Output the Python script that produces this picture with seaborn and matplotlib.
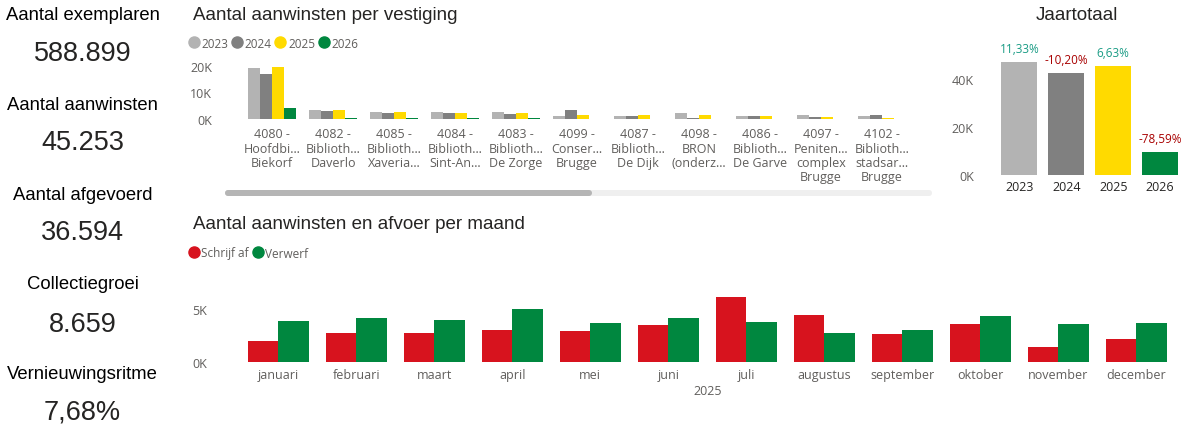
import matplotlib
matplotlib.use("Agg")
import matplotlib.pyplot as plt
from matplotlib.lines import Line2D
from matplotlib.patches import FancyBboxPatch
import seaborn as sns
import pandas as pd

# ---------------- data ----------------
kpi_labels = ["Aantal exemplaren", "Aantal aanwinsten", "Aantal afgevoerd",
              "Collectiegroei", "Vernieuwingsritme"]
kpi_values = ["588.899", "45.253", "36.594", "8.659", "7,68%"]

vestigingen = [
    "4080 -\nHoofdbi…\nBiekorf", "4082 -\nBiblioth…\nDaverlo", "4085 -\nBiblioth…\nXaveria…",
    "4084 -\nBiblioth…\nSint-An…", "4083 -\nBiblioth…\nDe Zorge", "4099 -\nConser…\nBrugge",
    "4087 -\nBiblioth…\nDe Dijk", "4098 -\nBRON\n(onderz…", "4086 -\nBiblioth…\nDe Garve",
    "4097 -\nPeniten…\ncomplex\nBrugge", "4102 -\nBiblioth…\nstadsar…\nBrugge",
]
years = ["2023", "2024", "2025", "2026"]
v2023 = [19100, 3400, 2600, 2600, 2500, 1100, 1250, 2400, 1100, 1500, 1250]
v2024 = [16900, 3100, 2100, 2100, 1900, 3400, 1000, 250, 1000, 900, 1500]
v2025 = [19600, 3300, 2500, 2400, 2250, 1500, 1400, 1500, 1100, 750, 400]
v2026 = [4000, 500, 400, 400, 400, 100, 100, 100, 100, 100, 100]

jaar_totaal = [47259, 42439, 45253, 9689]
jaar_pct = ["11,33%", "-10,20%", "6,63%", "-78,59%"]

maanden = ["januari", "februari", "maart", "april", "mei", "juni", "juli",
           "augustus", "september", "oktober", "november", "december"]
schrijf_af = [1970, 2720, 2720, 3030, 2970, 3530, 6100, 4440, 2690, 3590, 1410, 2190]
verwerf = [3900, 4130, 3970, 5030, 3660, 4130, 3810, 2750, 3000, 4340, 3590, 3690]

# ---------------- style ----------------
sns.set_theme(style="white")
plt.rcParams["font.family"] = ["Liberation Sans", "DejaVu Sans"]
TICK_FONT = ["Open Sans", "DejaVu Sans"]
TICK_COL = "#605E5C"
TITLE_COL = "#252423"
year_colors = {"2023": "#B3B3B3", "2024": "#808080", "2025": "#FFDA00", "2026": "#00873F"}
RED = "#D7131E"
GREEN = "#00873F"

W, H = 1185, 427
fig = plt.figure(figsize=(W / 100, H / 100), dpi=100)
fig.patch.set_facecolor("white")


def rect(l, t, r, b):
    return [l / W, 1 - b / H, (r - l) / W, (b - t) / H]


def fy(y):
    return 1 - y / H


def clean(ax):
    for s in ax.spines.values():
        s.set_visible(False)
    ax.set_xlabel("")
    ax.set_ylabel("")
    ax.tick_params(length=0)
    ax.grid(False)
    ax.set_facecolor("white")


# ---------------- KPI cards ----------------
label_y = [15, 105, 195, 285, 375]
value_y = [54, 143, 233, 325, 413]
for lab, val, ly, vy in zip(kpi_labels, kpi_values, label_y, value_y):
    fig.text(82.5 / W, fy(ly), lab, ha="center", va="center", fontsize=13.3, color="#000000")
    fig.text(82.5 / W, fy(vy), val, ha="center", va="center", fontsize=19.5, color=TITLE_COL)

# ---------------- titles ----------------
fig.text(193 / W, fy(15), "Aantal aanwinsten per vestiging", ha="left", va="center",
         fontsize=13.5, color=TITLE_COL)
fig.text(1077 / W, fy(15), "Jaartotaal", ha="center", va="center", fontsize=13.5, color=TITLE_COL)
fig.text(193 / W, fy(225), "Aantal aanwinsten en afvoer per maand", ha="left", va="center",
         fontsize=13.5, color=TITLE_COL)

# ---------------- top: per vestiging ----------------
df_v = pd.DataFrame({
    "vestiging": vestigingen * 4,
    "jaar": sum([[y] * len(vestigingen) for y in years], []),
    "waarde": v2023 + v2024 + v2025 + v2026,
})
ax1 = fig.add_axes(rect(241.5, 62, 912.5, 120))
sns.barplot(data=df_v, x="vestiging", y="waarde", hue="jaar", hue_order=years,
            palette=year_colors, width=0.8, ax=ax1, legend=False, saturation=1,
            errorbar=None, linewidth=0)
clean(ax1)
ax1.set_xlim(-0.5, len(vestigingen) - 0.5)
ax1.set_ylim(0, 20000 * (120 - 62) / 53.3)
ax1.set_yticks([0, 10000, 20000])
ax1.set_yticklabels(["0K", "10K", "20K"], fontsize=9, color=TICK_COL, family=TICK_FONT)
ax1.tick_params(axis="y", pad=21)
ax1.set_xticks(range(len(vestigingen)))
ax1.set_xticklabels(vestigingen, fontsize=9, color=TICK_COL, family=TICK_FONT,
                    va="top", linespacing=1.12)
ax1.tick_params(axis="x", pad=6)

handles = [Line2D([], [], marker="o", linestyle="", markersize=8, color=year_colors[y]) for y in years]
fig.legend(handles, years, loc="center left", bbox_to_anchor=(190 / W, fy(44)), ncol=4,
           frameon=False, handlelength=0.6, handletextpad=0.35, columnspacing=0.45,
           borderaxespad=0, borderpad=0, prop={"family": TICK_FONT, "size": 8.5},
           labelcolor=TICK_COL)

# scrollbar
fig.patches.append(FancyBboxPatch((225 / 100, (H - 197) / 100), (932 - 225) / 100, 6 / 100,
                                  boxstyle="round,pad=0,rounding_size=0.03",
                                  transform=fig.dpi_scale_trans, facecolor="#EFEFEF",
                                  edgecolor="none", figure=fig))
fig.patches.append(FancyBboxPatch((225 / 100, (H - 197) / 100), (592 - 225) / 100, 6 / 100,
                                  boxstyle="round,pad=0,rounding_size=0.03",
                                  transform=fig.dpi_scale_trans, facecolor="#B5B5B5",
                                  edgecolor="none", figure=fig))

# ---------------- Jaartotaal ----------------
df_j = pd.DataFrame({"jaar": years, "totaal": jaar_totaal})
ax2 = fig.add_axes(rect(996, 45, 1183.5, 175.7))
sns.barplot(data=df_j, x="jaar", y="totaal", hue="jaar", palette=year_colors, width=0.77,
            ax=ax2, legend=False, saturation=1, errorbar=None, linewidth=0)
clean(ax2)
ax2.set_xlim(-0.5, 3.5)
ax2.set_ylim(0, 40000 * (175.7 - 45) / (175.7 - 80))
ax2.set_yticks([0, 20000, 40000])
ax2.set_yticklabels(["0K", "20K", "40K"], fontsize=9, color=TICK_COL, family=TICK_FONT)
ax2.tick_params(axis="y", pad=16)
ax2.set_xticks(range(4))
ax2.set_xticklabels(years, fontsize=9, color=TITLE_COL, family=TICK_FONT)
ax2.tick_params(axis="x", pad=4)
for i, (val, pct) in enumerate(zip(jaar_totaal, jaar_pct)):
    col = "#A80000" if pct.startswith("-") else "#1A9C85"
    ax2.annotate(pct, (i, val), xytext=(0, 5), textcoords="offset points", ha="center",
                 va="bottom", fontsize=8.5, color=col, family=TICK_FONT)

# ---------------- per maand ----------------
df_m = pd.DataFrame({
    "maand": maanden * 2,
    "type": ["Schrijf af"] * 12 + ["Verwerf"] * 12,
    "aantal": schrijf_af + verwerf,
})
ax3 = fig.add_axes(rect(239.3, 285, 1175.3, 363.3))
sns.barplot(data=df_m, x="maand", y="aantal", hue="type", hue_order=["Schrijf af", "Verwerf"],
            palette={"Schrijf af": RED, "Verwerf": GREEN}, width=0.78, ax=ax3, legend=False,
            saturation=1, errorbar=None, linewidth=0)
clean(ax3)
ax3.set_xlim(-0.5, 11.5)
ax3.set_ylim(0, 5000 * (363.3 - 285) / 53.3)
ax3.set_yticks([0, 5000])
ax3.set_yticklabels(["0K", "5K"], fontsize=9, color=TICK_COL, family=TICK_FONT)
ax3.tick_params(axis="y", pad=23)
ax3.set_xticks(range(12))
ax3.set_xticklabels(maanden, fontsize=9, color=TICK_COL, family=TICK_FONT)
ax3.tick_params(axis="x", pad=4)
ax3.set_xlabel("2025", fontsize=9, color=TICK_COL, family=TICK_FONT, labelpad=2)

handles2 = [Line2D([], [], marker="o", linestyle="", markersize=8, color=c) for c in (RED, GREEN)]
fig.legend(handles2, ["Schrijf af", "Verwerf"], loc="center left",
           bbox_to_anchor=(190 / W, fy(254)), ncol=2, frameon=False, handlelength=0.6,
           handletextpad=0.35, columnspacing=0.45, borderaxespad=0, borderpad=0,
           prop={"family": TICK_FONT, "size": 8.5}, labelcolor=TICK_COL)

fig.savefig("out.png", dpi=100, facecolor="white")
